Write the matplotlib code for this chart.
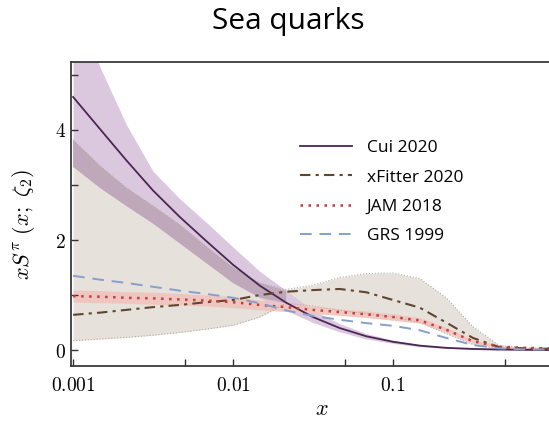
import numpy as np
import matplotlib
matplotlib.use('Agg')
import matplotlib.pyplot as plt
from matplotlib.ticker import FixedLocator, FuncFormatter

plt.rcParams['mathtext.fontset'] = 'cm'

# sample points, six per decade from 0.001 to 1
x = [0.001, 0.00147, 0.00215, 0.00316, 0.00464, 0.00681,
     0.01, 0.0147, 0.0215, 0.0316, 0.0464, 0.0681,
     0.1, 0.147, 0.215, 0.316, 0.464, 0.681, 1.0]

cui = [4.6, 4.02, 3.45, 2.9, 2.42, 1.98, 1.55, 1.17, 0.86, 0.6,
       0.4, 0.25, 0.15, 0.08, 0.04, 0.02, 0.01, 0.005, 0.0]
cui_hi = [6.4, 5.15, 4.1, 3.25, 2.75, 2.32, 1.87, 1.43, 1.08, 0.72,
          0.48, 0.3, 0.18, 0.1, 0.05, 0.03, 0.02, 0.01, 0.01]
cui_lo = [3.33, 2.95, 2.62, 2.3, 1.94, 1.58, 1.22, 0.95, 0.72, 0.5,
          0.33, 0.2, 0.12, 0.06, 0.03, 0.01, 0.0, 0.0, 0.0]

xfit = [0.64, 0.68, 0.73, 0.78, 0.82, 0.87, 0.91, 1.0, 1.06, 1.09,
        1.11, 1.05, 0.91, 0.77, 0.5, 0.22, 0.05, 0.03, 0.02]
xfit_hi = [3.82, 3.35, 2.95, 2.62, 2.28, 1.88, 1.5, 1.22, 1.1, 1.18,
           1.32, 1.39, 1.4, 1.3, 0.95, 0.42, 0.08, 0.04, 0.03]
xfit_lo = [0.17, 0.2, 0.23, 0.27, 0.32, 0.38, 0.45, 0.6, 0.85, 0.8,
           0.72, 0.66, 0.6, 0.5, 0.3, 0.1, 0.02, 0.0, 0.0]

jam = [0.98, 0.97, 0.95, 0.94, 0.92, 0.9, 0.87, 0.82, 0.78, 0.73,
       0.69, 0.65, 0.6, 0.54, 0.37, 0.16, 0.06, 0.04, 0.03]
jam_hi = [1.09, 1.08, 1.06, 1.05, 1.03, 1.0, 0.97, 0.91, 0.86, 0.8,
          0.75, 0.71, 0.66, 0.59, 0.41, 0.19, 0.08, 0.05, 0.04]
jam_lo = [0.87, 0.86, 0.85, 0.83, 0.82, 0.8, 0.77, 0.73, 0.7, 0.66,
          0.63, 0.59, 0.54, 0.49, 0.33, 0.13, 0.04, 0.03, 0.02]

grs = [1.35, 1.28, 1.22, 1.15, 1.08, 1.02, 0.95, 0.85, 0.72, 0.62,
       0.55, 0.49, 0.44, 0.36, 0.22, 0.09, 0.03, 0.01, 0.01]

labels = ['Cui 2020', 'xFitter 2020', 'JAM 2018', 'GRS 1999']
xticks_major = [0.001, 0.01, 0.1, 1]
xticks_minor = [0.005, 0.05, 0.5]

x = np.array(x)
fig = plt.figure(figsize=(5.49, 4.21), dpi=100)
ax = fig.add_axes([71 / 549, 55 / 421, 482 / 549, 304 / 421])

# uncertainty bands
ax.fill_between(x, xfit_lo, xfit_hi, color='#e6e1da', lw=0)
ax.plot(x, xfit_lo, ls=':', color='#b5aea6', lw=0.8)
ax.plot(x, xfit_hi, ls=':', color='#b5aea6', lw=0.8)
ax.fill_between(x, cui_lo, cui_hi, color='#dcc8de', lw=0)
ov_lo = np.maximum(cui_lo, xfit_lo)
ov_hi = np.minimum(cui_hi, xfit_hi)
ax.fill_between(x, ov_lo, ov_hi, where=ov_hi > ov_lo, color='#bfa8ba', lw=0)
ax.fill_between(x, jam_lo, jam_hi, color='#f0c4bd', lw=0, alpha=0.9)

# central curves
ax.plot(x, cui, color='#4a2652', lw=1.3, label=labels[0])
ax.plot(x, xfit, color='#5e4630', lw=1.5, dashes=[5, 2.5, 1.5, 2.5], label=labels[1])
ax.plot(x, jam, color='#cc3a3a', lw=1.8, dashes=[1, 2.2], label=labels[2])
ax.plot(x, grs, color='#86a0cc', lw=1.4, dashes=[6, 4], label=labels[3])

ax.set_xscale('log')
ax.set_xlim(0.00097, 1.0)
ax.set_ylim(-0.29, 5.236)

ax.xaxis.set_major_locator(FixedLocator(xticks_major))
ax.xaxis.set_minor_locator(FixedLocator(xticks_minor))
ax.xaxis.set_major_formatter(FuncFormatter(lambda v, p: '$%g$' % v))
ax.xaxis.set_minor_formatter(FuncFormatter(lambda v, p: ''))
ax.yaxis.set_major_locator(FixedLocator([0, 2, 4]))
ax.yaxis.set_minor_locator(FixedLocator([1, 3, 5]))
ax.yaxis.set_major_formatter(FuncFormatter(lambda v, p: '$%d$' % v))
ax.tick_params(which='both', direction='in', length=5, width=1, color='#333333',
               labelsize=14, top=False, right=False)
ax.tick_params(axis='x', pad=7)
for s in ax.spines.values():
    s.set_color('#3a3a3a')
    s.set_linewidth(1.3)

ax.set_xlabel('$x$', fontsize=16)
ax.xaxis.set_label_coords(0.52, -0.11)
ax.set_ylabel(r'$xS^{\pi}\ (x;\ \zeta_2)$', fontsize=16)
ax.yaxis.set_label_coords(-0.07, 0.467)

leg = ax.legend(loc='upper left', bbox_to_anchor=(300 / 549, 1 - 140 / 421),
                bbox_transform=fig.transFigure, frameon=False,
                prop={'family': 'Open Sans', 'size': 12.5},
                handlelength=3.0, handletextpad=0.85, labelspacing=0.76,
                borderpad=0, borderaxespad=0)

fig.text(288 / 549, 1 - 22 / 421, 'Sea quarks', ha='center', va='center',
         family='Open Sans', fontsize=21.5)

fig.savefig('out.png', dpi=100)
